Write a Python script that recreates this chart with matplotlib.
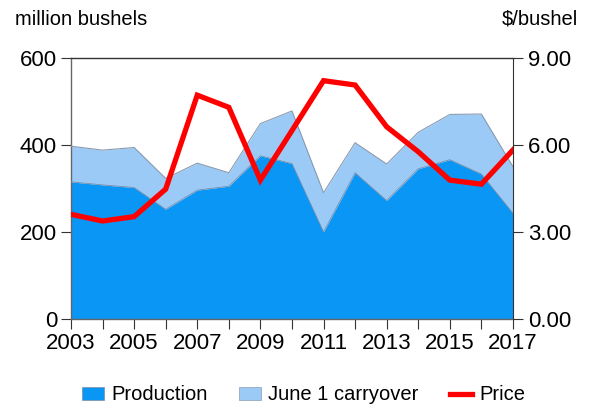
import numpy as np
import matplotlib
matplotlib.use("Agg")
import matplotlib.pyplot as plt
from matplotlib.patches import Patch
from matplotlib.lines import Line2D

plt.rcParams["font.family"] = ["Liberation Sans", "DejaVu Sans"]

years = list(range(2003, 2018))
production = [316, 309, 303, 253, 297, 306, 376, 358, 201, 337, 273, 346, 367, 334, 244]
total_supply = [398, 389, 395, 324, 359, 337, 450, 479, 291, 406, 357, 430, 471, 472, 351]
price = [3.62, 3.39, 3.54, 4.49, 7.73, 7.31, 4.80, 6.51, 8.23, 8.08, 6.64, 5.78, 4.80, 4.66, 5.84]

DARK = "#0a96f5"
LIGHT = "#9ccaf7"
RED = "#ff0000"

fig = plt.figure(figsize=(5.93, 4.08), dpi=100)
ax = fig.add_axes([0.1197, 0.2174, 0.7453, 0.6396])

ax.fill_between(years, production, total_supply, color=LIGHT, lw=0, zorder=1)
ax.fill_between(years, 0, production, color=DARK, lw=0, zorder=2)
ax.plot(years, total_supply, color="#8a9bb0", lw=0.8, zorder=3)
ax.plot(years, production, color="#7d8fa6", lw=0.6, zorder=3)

ax.set_xlim(2003, 2017)
ax.set_ylim(0, 600)
ax.set_yticks([0, 200, 400, 600])
ax.set_xticks(years)
ax.set_xticklabels([str(y) if (y - 2003) % 2 == 0 else "" for y in years])
ax.tick_params(axis="both", labelsize=16, length=7, width=0.8, color="#333333", pad=3)
ax.tick_params(axis="x", pad=3)
for s in ["left", "bottom"]:
    ax.spines[s].set_color("#666666")
    ax.spines[s].set_linewidth(1.0)
ax.spines["top"].set_color("#333333")
ax.spines["top"].set_linewidth(1.0)
ax.spines["right"].set_visible(False)

ax2 = ax.twinx()
ax2.plot(years, price, color=RED, lw=3.8, solid_joinstyle="miter", zorder=5)
ax2.set_ylim(0, 9)
ax2.set_yticks([0, 3, 6, 9])
ax2.set_yticklabels(["0.00", "3.00", "6.00", "9.00"])
ax2.tick_params(axis="y", labelsize=16, length=7, width=0.8, color="#333333", pad=4)
ax2.spines["right"].set_color("#333333")
for s in ["top", "left", "bottom"]:
    ax2.spines[s].set_visible(False)

fig.text(0.025, 0.93, "million bushels", fontsize=14.5, ha="left", va="bottom")
fig.text(0.975, 0.93, "$/bushel", fontsize=14.5, ha="right", va="bottom")

handles = [Patch(facecolor=DARK, edgecolor="#7d8fa6", lw=0.5, label="Production"),
           Patch(facecolor=LIGHT, edgecolor="#8a9bb0", lw=0.5, label="June 1 carryover"),
           Line2D([0], [0], color=RED, lw=3.8, label="Price")]
fig.legend(handles=handles, loc="center", bbox_to_anchor=(0.512, 0.032), ncol=3,
           frameon=False, fontsize=14.5, handlelength=1.1, handleheight=0.6,
           handletextpad=0.35, columnspacing=1.55)

fig.savefig("out.png", dpi=100)
